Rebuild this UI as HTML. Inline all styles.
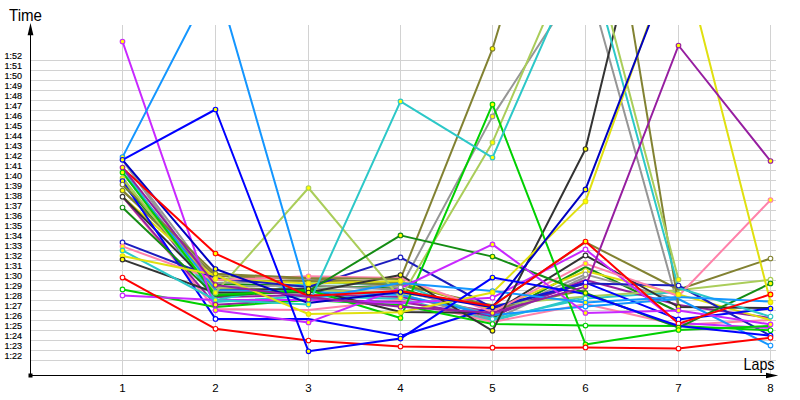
<!DOCTYPE html><html><head><meta charset="utf-8"><title>Lap times</title><style>html,body{margin:0;padding:0;background:#fff}svg{display:block}text{font-family:"Liberation Sans",sans-serif;fill:#000}.y{stroke:#000;stroke-width:0.15px}</style></head><body>
<svg width="800" height="400" viewBox="0 0 800 400">
<rect width="800" height="400" fill="#fff"/>
<defs><clipPath id="c"><rect x="0" y="25" width="800" height="351"/></clipPath></defs>
<path d="M31 60.5H776M31 70.5H776M31 80.5H776M31 90.5H776M31 100.5H776M31 110.5H776M31 120.5H776M31 130.5H776M31 140.5H776M31 150.5H776M31 160.5H776M31 170.5H776M31 180.5H776M31 190.5H776M31 200.5H776M31 210.5H776M31 220.5H776M31 230.5H776M31 240.5H776M31 250.5H776M31 260.5H776M31 270.5H776M31 280.5H776M31 290.5H776M31 300.5H776M31 310.5H776M31 320.5H776M31 330.5H776M31 340.5H776M31 350.5H776M31 360.5H776M122.5 25V375M215.5 25V375M308.5 25V375M400.5 25V375M492.5 25V375M585.5 25V375M678.5 25V375M770.5 25V375" stroke="#d2d2d2" stroke-width="1" fill="none" shape-rendering="crispEdges"/>
<text class="y" x="4.6" y="59" font-size="9">1:52</text>
<text class="y" x="4.6" y="69" font-size="9">1:51</text>
<text class="y" x="4.6" y="79" font-size="9">1:50</text>
<text class="y" x="4.6" y="89" font-size="9">1:49</text>
<text class="y" x="4.6" y="99" font-size="9">1:48</text>
<text class="y" x="4.6" y="109" font-size="9">1:47</text>
<text class="y" x="4.6" y="119" font-size="9">1:46</text>
<text class="y" x="4.6" y="129" font-size="9">1:45</text>
<text class="y" x="4.6" y="139" font-size="9">1:44</text>
<text class="y" x="4.6" y="149" font-size="9">1:43</text>
<text class="y" x="4.6" y="159" font-size="9">1:42</text>
<text class="y" x="4.6" y="169" font-size="9">1:41</text>
<text class="y" x="4.6" y="179" font-size="9">1:40</text>
<text class="y" x="4.6" y="189" font-size="9">1:39</text>
<text class="y" x="4.6" y="199" font-size="9">1:38</text>
<text class="y" x="4.6" y="209" font-size="9">1:37</text>
<text class="y" x="4.6" y="219" font-size="9">1:36</text>
<text class="y" x="4.6" y="229" font-size="9">1:35</text>
<text class="y" x="4.6" y="239" font-size="9">1:34</text>
<text class="y" x="4.6" y="249" font-size="9">1:33</text>
<text class="y" x="4.6" y="259" font-size="9">1:32</text>
<text class="y" x="4.6" y="269" font-size="9">1:31</text>
<text class="y" x="4.6" y="279" font-size="9">1:30</text>
<text class="y" x="4.6" y="289" font-size="9">1:29</text>
<text class="y" x="4.6" y="299" font-size="9">1:28</text>
<text class="y" x="4.6" y="309" font-size="9">1:27</text>
<text class="y" x="4.6" y="319" font-size="9">1:26</text>
<text class="y" x="4.6" y="329" font-size="9">1:25</text>
<text class="y" x="4.6" y="339" font-size="9">1:24</text>
<text class="y" x="4.6" y="349" font-size="9">1:23</text>
<text class="y" x="4.6" y="359" font-size="9">1:22</text>
<text x="122.5" y="391.5" font-size="11.5" text-anchor="middle">1</text>
<text x="215.5" y="391.5" font-size="11.5" text-anchor="middle">2</text>
<text x="308.5" y="391.5" font-size="11.5" text-anchor="middle">3</text>
<text x="400.5" y="391.5" font-size="11.5" text-anchor="middle">4</text>
<text x="492.5" y="391.5" font-size="11.5" text-anchor="middle">5</text>
<text x="585.5" y="391.5" font-size="11.5" text-anchor="middle">6</text>
<text x="678.5" y="391.5" font-size="11.5" text-anchor="middle">7</text>
<text x="770.5" y="391.5" font-size="11.5" text-anchor="middle">8</text>
<text x="9" y="20.8" font-size="16.5" textLength="33" lengthAdjust="spacingAndGlyphs">Time</text>
<text x="743.5" y="370" font-size="16.5" textLength="31" lengthAdjust="spacingAndGlyphs">Laps</text>
<g clip-path="url(#c)" fill="none" stroke-width="2" stroke-linejoin="round" stroke-linecap="round">
<polyline points="122.5,159.8 215.5,291.0 308.5,288.0 400.5,294.0 492.5,320.0 585.5,277.0" stroke="#969696"/>
<polyline points="122.5,178.0 215.5,297.0 308.5,295.0 400.5,297.0 492.5,312.0 585.5,283.0" stroke="#961ea0"/>
<polyline points="122.5,190.5 215.5,276.0 308.5,279.0 400.5,283.0 492.5,309.0 585.5,290.0" stroke="#828232"/>
<polyline points="122.5,184.6 215.5,284.0 308.5,286.0 400.5,288.0 492.5,318.0 585.5,267.0 678.5,312.0" stroke="#148c14"/>
<polyline points="122.5,167.6 215.5,302.0 308.5,296.0 400.5,299.0 492.5,321.0 585.5,296.0" stroke="#2cc8c8"/>
<polyline points="122.5,159.8 215.5,283.0 308.5,280.0 400.5,287.5 492.5,116.4 585.5,-27.0 678.5,307.0" stroke="#969696"/>
<polyline points="122.5,172.5 215.5,287.0 308.5,285.0 400.5,290.0 492.5,315.0 585.5,274.4 678.5,300.0" stroke="#969696"/>
<polyline points="122.5,196.7 215.5,309.0 308.5,310.0 400.5,300.0 492.5,322.0 585.5,304.0 678.5,325.0 770.5,320.0" stroke="#ff82aa"/>
<polyline points="122.5,167.6 215.5,300.0 308.5,283.0 400.5,284.0 492.5,319.0 585.5,298.6 678.5,292.0" stroke="#2cc8c8"/>
<polyline points="122.5,196.7 215.5,304.7 308.5,299.5 400.5,302.0 492.5,316.0 585.5,280.0 678.5,305.0 770.5,318.0" stroke="#961ea0"/>
<polyline points="122.5,181.0 215.5,288.0 308.5,290.0 400.5,293.0 492.5,305.0 585.5,296.5 678.5,290.3 770.5,279.7" stroke="#aacd5a"/>
<polyline points="122.5,190.5 215.5,280.0 308.5,281.0 400.5,285.0 492.5,305.5 585.5,242.2 678.5,289.5 770.5,258.5" stroke="#828232"/>
<polyline points="122.5,196.7 215.5,278.8 308.5,283.5 400.5,281.0 492.5,310.0 585.5,271.0 678.5,294.4 770.5,320.0" stroke="#e0e010"/>
<polyline points="122.5,196.7 215.5,290.0 308.5,289.0 400.5,312.0 492.5,313.0 585.5,255.4 678.5,307.0 770.5,308.0" stroke="#333333"/>
<polyline points="122.5,181.0 215.5,318.9 308.5,319.0 400.5,336.0 492.5,307.3 585.5,282.6 678.5,319.4 770.5,308.5" stroke="#0000ff"/>
<polyline points="122.5,172.5 215.5,290.0 308.5,292.0 400.5,295.0 492.5,315.0 585.5,306.6 678.5,299.0 770.5,345.6" stroke="#1496ff"/>
<polyline points="122.5,242.4 215.5,278.0 308.5,287.0 400.5,257.4 492.5,308.0 585.5,283.5 678.5,285.5 770.5,335.7" stroke="#1c1cbe"/>
<polyline points="122.5,289.4 215.5,307.0 308.5,300.0 400.5,305.0 492.5,324.0 585.5,325.6 678.5,326.0 770.5,330.3" stroke="#00d000"/>
<polyline points="122.5,295.4 215.5,300.0 308.5,300.0 400.5,303.0 492.5,297.7 585.5,249.4 678.5,323.0 770.5,328.0" stroke="#c828ff"/>
<polyline points="122.5,246.4 215.5,280.0 308.5,276.3 400.5,278.0 492.5,312.0 585.5,263.6 678.5,296.0 770.5,200.0" stroke="#ff82aa"/>
<polyline points="122.5,259.6 215.5,292.7 308.5,292.5 400.5,275.0 492.5,330.8 585.5,149.0 678.5,-232.0" stroke="#333333"/>
<polyline points="122.5,184.6 215.5,273.8 308.5,278.0 400.5,279.0 492.5,48.8 585.5,-258.0 678.5,305.0" stroke="#828232"/>
<polyline points="122.5,178.0 215.5,292.7 308.5,188.0 400.5,298.0 492.5,142.4 585.5,-74.0 678.5,279.5" stroke="#aacd5a"/>
<polyline points="122.5,207.5 215.5,296.0 308.5,291.0 400.5,235.4 492.5,256.6 585.5,293.0 678.5,327.6 770.5,283.4" stroke="#148c14"/>
<polyline points="122.5,277.6 215.5,328.8 308.5,340.5 400.5,346.5 492.5,347.7 585.5,347.4 678.5,348.6 770.5,337.8" stroke="#ff0000"/>
<polyline points="122.5,172.5 215.5,295.0 308.5,290.0 400.5,318.0 492.5,104.4 585.5,344.4 678.5,330.0 770.5,326.0" stroke="#00d000"/>
<polyline points="122.5,41.5 215.5,310.3 308.5,322.4 400.5,288.0 492.5,244.4 585.5,313.0 678.5,310.4 770.5,324.4" stroke="#c828ff"/>
<polyline points="122.5,250.4 215.5,300.0 308.5,304.4 400.5,101.4 492.5,157.6 585.5,-54.0 678.5,288.0 770.5,316.6" stroke="#2cc8c8"/>
<polyline points="122.5,157.1 215.5,-23.0 308.5,299.0 400.5,283.0 492.5,291.0 585.5,302.6 678.5,297.0 770.5,301.6" stroke="#1496ff"/>
<polyline points="122.5,256.0 215.5,275.0 308.5,314.0 400.5,312.3 492.5,292.5 585.5,201.4 678.5,-60.0 770.5,302.2" stroke="#e0e010"/>
<polyline points="122.5,159.8 215.5,269.0 308.5,303.0 400.5,292.0 492.5,307.3 585.5,189.4 678.5,-51.0" stroke="#0000c0"/>
<polyline points="122.5,159.8 215.5,109.5 308.5,351.3 400.5,338.6 492.5,277.6 585.5,294.0 678.5,326.0 770.5,335.7" stroke="#0000ff"/>
<polyline points="122.5,168.0 215.5,253.6 308.5,296.0 400.5,291.0 492.5,306.0 585.5,241.6 678.5,323.6 770.5,294.4" stroke="#ff0000"/>
<polyline points="122.5,167.6 215.5,285.0 308.5,297.0 400.5,306.7 492.5,313.0 585.5,286.6 678.5,45.5 770.5,161.0" stroke="#961ea0"/>
</g>
<g clip-path="url(#c)" stroke-width="1.1">
<circle cx="122.5" cy="41.5" r="2.3" stroke="#c828ff" fill="#ffff00"/>
<circle cx="122.5" cy="157.1" r="2.3" stroke="#1496ff" fill="#ffff00"/>
<circle cx="122.5" cy="159.8" r="2.3" stroke="#0000ff" fill="#ffff00"/>
<circle cx="122.5" cy="167.6" r="2.3" stroke="#961ea0" fill="#ffff00"/>
<circle cx="122.5" cy="172.5" r="2.3" stroke="#00d000" fill="#ffff00"/>
<circle cx="122.5" cy="178.0" r="2.3" stroke="#aacd5a" fill="#ffff00"/>
<circle cx="122.5" cy="181.0" r="2.3" stroke="#0000ff" fill="#ffff00"/>
<circle cx="122.5" cy="184.6" r="2.3" stroke="#828232" fill="#ffffff"/>
<circle cx="122.5" cy="190.5" r="2.3" stroke="#828232" fill="#ffff00"/>
<circle cx="122.5" cy="196.7" r="2.3" stroke="#333333" fill="#ffffff"/>
<circle cx="122.5" cy="207.5" r="2.3" stroke="#148c14" fill="#ffffff"/>
<circle cx="122.5" cy="242.4" r="2.3" stroke="#1c1cbe" fill="#ffffff"/>
<circle cx="122.5" cy="246.4" r="2.3" stroke="#ff82aa" fill="#ffff00"/>
<circle cx="122.5" cy="250.4" r="2.3" stroke="#2cc8c8" fill="#ffff00"/>
<circle cx="122.5" cy="256.0" r="2.3" stroke="#e0e010" fill="#ffff00"/>
<circle cx="122.5" cy="259.6" r="2.3" stroke="#333333" fill="#ffff00"/>
<circle cx="122.5" cy="277.6" r="2.3" stroke="#ff0000" fill="#ffffff"/>
<circle cx="122.5" cy="289.4" r="2.3" stroke="#00d000" fill="#ffffff"/>
<circle cx="122.5" cy="295.4" r="2.3" stroke="#c828ff" fill="#ffffff"/>
<circle cx="215.5" cy="109.5" r="2.3" stroke="#0000ff" fill="#ffff00"/>
<circle cx="215.5" cy="253.6" r="2.3" stroke="#ff0000" fill="#ffff00"/>
<circle cx="215.5" cy="269.0" r="2.3" stroke="#0000c0" fill="#ffff00"/>
<circle cx="215.5" cy="273.8" r="2.3" stroke="#828232" fill="#ffff00"/>
<circle cx="215.5" cy="278.8" r="2.3" stroke="#e0e010" fill="#ffff00"/>
<circle cx="215.5" cy="285.0" r="2.3" stroke="#961ea0" fill="#ffff00"/>
<circle cx="215.5" cy="292.7" r="2.3" stroke="#aacd5a" fill="#ffff00"/>
<circle cx="215.5" cy="300.0" r="2.3" stroke="#2cc8c8" fill="#ffff00"/>
<circle cx="215.5" cy="304.7" r="2.3" stroke="#961ea0" fill="#ffff00"/>
<circle cx="215.5" cy="310.3" r="2.3" stroke="#c828ff" fill="#ffff00"/>
<circle cx="215.5" cy="318.9" r="2.3" stroke="#0000ff" fill="#ffffff"/>
<circle cx="215.5" cy="328.8" r="2.3" stroke="#ff0000" fill="#ffffff"/>
<circle cx="308.5" cy="188.0" r="2.3" stroke="#aacd5a" fill="#ffff00"/>
<circle cx="308.5" cy="276.3" r="2.3" stroke="#ff82aa" fill="#ffff00"/>
<circle cx="308.5" cy="283.5" r="2.3" stroke="#e0e010" fill="#ffff00"/>
<circle cx="308.5" cy="289.0" r="2.3" stroke="#333333" fill="#ffff00"/>
<circle cx="308.5" cy="292.5" r="2.3" stroke="#333333" fill="#ffff00"/>
<circle cx="308.5" cy="299.5" r="2.3" stroke="#961ea0" fill="#ffff00"/>
<circle cx="308.5" cy="304.4" r="2.3" stroke="#2cc8c8" fill="#ffff00"/>
<circle cx="308.5" cy="314.0" r="2.3" stroke="#e0e010" fill="#ffff00"/>
<circle cx="308.5" cy="322.4" r="2.3" stroke="#c828ff" fill="#ffff00"/>
<circle cx="308.5" cy="340.5" r="2.3" stroke="#ff0000" fill="#ffffff"/>
<circle cx="308.5" cy="351.3" r="2.3" stroke="#0000ff" fill="#ffff00"/>
<circle cx="400.5" cy="101.4" r="2.3" stroke="#2cc8c8" fill="#ffff00"/>
<circle cx="400.5" cy="235.4" r="2.3" stroke="#148c14" fill="#ffff00"/>
<circle cx="400.5" cy="257.4" r="2.3" stroke="#1c1cbe" fill="#ffffff"/>
<circle cx="400.5" cy="275.0" r="2.3" stroke="#333333" fill="#ffff00"/>
<circle cx="400.5" cy="281.0" r="2.3" stroke="#e0e010" fill="#ffff00"/>
<circle cx="400.5" cy="287.5" r="2.3" stroke="#969696" fill="#ffffff"/>
<circle cx="400.5" cy="292.0" r="2.3" stroke="#0000c0" fill="#ffff00"/>
<circle cx="400.5" cy="298.0" r="2.3" stroke="#aacd5a" fill="#ffff00"/>
<circle cx="400.5" cy="306.7" r="2.3" stroke="#961ea0" fill="#ffff00"/>
<circle cx="400.5" cy="312.3" r="2.3" stroke="#e0e010" fill="#ffff00"/>
<circle cx="400.5" cy="318.0" r="2.3" stroke="#00d000" fill="#ffff00"/>
<circle cx="400.5" cy="336.0" r="2.3" stroke="#0000ff" fill="#ffffff"/>
<circle cx="400.5" cy="338.6" r="2.3" stroke="#0000ff" fill="#ffff00"/>
<circle cx="400.5" cy="346.5" r="2.3" stroke="#ff0000" fill="#ffffff"/>
<circle cx="492.5" cy="48.8" r="2.3" stroke="#828232" fill="#ffff00"/>
<circle cx="492.5" cy="104.4" r="2.3" stroke="#00d000" fill="#ffff00"/>
<circle cx="492.5" cy="116.4" r="2.3" stroke="#969696" fill="#ffff00"/>
<circle cx="492.5" cy="142.4" r="2.3" stroke="#aacd5a" fill="#ffff00"/>
<circle cx="492.5" cy="157.6" r="2.3" stroke="#2cc8c8" fill="#ffff00"/>
<circle cx="492.5" cy="244.4" r="2.3" stroke="#c828ff" fill="#ffff00"/>
<circle cx="492.5" cy="256.6" r="2.3" stroke="#148c14" fill="#ffff00"/>
<circle cx="492.5" cy="277.6" r="2.3" stroke="#0000ff" fill="#ffff00"/>
<circle cx="492.5" cy="291.0" r="2.3" stroke="#1496ff" fill="#ffff00"/>
<circle cx="492.5" cy="292.5" r="2.3" stroke="#e0e010" fill="#ffff00"/>
<circle cx="492.5" cy="297.7" r="2.3" stroke="#c828ff" fill="#ffffff"/>
<circle cx="492.5" cy="307.3" r="2.3" stroke="#0000c0" fill="#ffff00"/>
<circle cx="492.5" cy="313.0" r="2.3" stroke="#961ea0" fill="#ffff00"/>
<circle cx="492.5" cy="319.0" r="2.3" stroke="#2cc8c8" fill="#ffffff"/>
<circle cx="492.5" cy="324.0" r="2.3" stroke="#00d000" fill="#ffffff"/>
<circle cx="492.5" cy="330.8" r="2.3" stroke="#333333" fill="#ffff00"/>
<circle cx="492.5" cy="347.7" r="2.3" stroke="#ff0000" fill="#ffffff"/>
<circle cx="585.5" cy="149.0" r="2.3" stroke="#333333" fill="#ffff00"/>
<circle cx="585.5" cy="189.4" r="2.3" stroke="#0000c0" fill="#ffff00"/>
<circle cx="585.5" cy="201.4" r="2.3" stroke="#e0e010" fill="#ffff00"/>
<circle cx="585.5" cy="241.6" r="2.3" stroke="#ff0000" fill="#ffff00"/>
<circle cx="585.5" cy="249.4" r="2.3" stroke="#c828ff" fill="#ffffff"/>
<circle cx="585.5" cy="255.4" r="2.3" stroke="#333333" fill="#ffffff"/>
<circle cx="585.5" cy="263.6" r="2.3" stroke="#ff82aa" fill="#ffff00"/>
<circle cx="585.5" cy="271.0" r="2.3" stroke="#e0e010" fill="#ffffff"/>
<circle cx="585.5" cy="274.4" r="2.3" stroke="#969696" fill="#ffffff"/>
<circle cx="585.5" cy="282.6" r="2.3" stroke="#0000ff" fill="#ffffff"/>
<circle cx="585.5" cy="286.6" r="2.3" stroke="#961ea0" fill="#ffff00"/>
<circle cx="585.5" cy="293.0" r="2.3" stroke="#148c14" fill="#ffff00"/>
<circle cx="585.5" cy="298.6" r="2.3" stroke="#2cc8c8" fill="#ffffff"/>
<circle cx="585.5" cy="302.6" r="2.3" stroke="#1496ff" fill="#ffff00"/>
<circle cx="585.5" cy="306.6" r="2.3" stroke="#1496ff" fill="#ffffff"/>
<circle cx="585.5" cy="313.0" r="2.3" stroke="#c828ff" fill="#ffff00"/>
<circle cx="585.5" cy="325.6" r="2.3" stroke="#00d000" fill="#ffffff"/>
<circle cx="585.5" cy="344.4" r="2.3" stroke="#00d000" fill="#ffff00"/>
<circle cx="585.5" cy="347.4" r="2.3" stroke="#ff0000" fill="#ffffff"/>
<circle cx="678.5" cy="45.5" r="2.3" stroke="#961ea0" fill="#ffff00"/>
<circle cx="678.5" cy="279.5" r="2.3" stroke="#aacd5a" fill="#ffff00"/>
<circle cx="678.5" cy="285.5" r="2.3" stroke="#1c1cbe" fill="#ffffff"/>
<circle cx="678.5" cy="294.4" r="2.3" stroke="#e0e010" fill="#ffff00"/>
<circle cx="678.5" cy="307.0" r="2.3" stroke="#333333" fill="#ffff00"/>
<circle cx="678.5" cy="310.4" r="2.3" stroke="#c828ff" fill="#ffff00"/>
<circle cx="678.5" cy="319.4" r="2.3" stroke="#0000ff" fill="#ffffff"/>
<circle cx="678.5" cy="323.6" r="2.3" stroke="#ff0000" fill="#ffffff"/>
<circle cx="678.5" cy="327.6" r="2.3" stroke="#148c14" fill="#ffff00"/>
<circle cx="678.5" cy="330.0" r="2.3" stroke="#00d000" fill="#ffff00"/>
<circle cx="678.5" cy="348.6" r="2.3" stroke="#ff0000" fill="#ffffff"/>
<circle cx="770.5" cy="161.0" r="2.3" stroke="#961ea0" fill="#ffff00"/>
<circle cx="770.5" cy="200.0" r="2.3" stroke="#ff82aa" fill="#ffff00"/>
<circle cx="770.5" cy="258.5" r="2.3" stroke="#828232" fill="#ffffff"/>
<circle cx="770.5" cy="279.7" r="2.3" stroke="#aacd5a" fill="#ffffff"/>
<circle cx="770.5" cy="283.4" r="2.3" stroke="#148c14" fill="#ffff00"/>
<circle cx="770.5" cy="294.4" r="2.3" stroke="#ff0000" fill="#ffff00"/>
<circle cx="770.5" cy="302.2" r="2.3" stroke="#e0e010" fill="#ffff00"/>
<circle cx="770.5" cy="308.5" r="2.3" stroke="#0000ff" fill="#ffff00"/>
<circle cx="770.5" cy="316.6" r="2.3" stroke="#2cc8c8" fill="#ffffff"/>
<circle cx="770.5" cy="324.4" r="2.3" stroke="#c828ff" fill="#ffff00"/>
<circle cx="770.5" cy="330.3" r="2.3" stroke="#00d000" fill="#ffffff"/>
<circle cx="770.5" cy="335.7" r="2.3" stroke="#0000ff" fill="#ffffff"/>
<circle cx="770.5" cy="337.8" r="2.3" stroke="#ff0000" fill="#ffffff"/>
<circle cx="770.5" cy="345.6" r="2.3" stroke="#1496ff" fill="#ffffff"/>
</g>
<path d="M30.5 376V30M30 375.5H770" stroke="#000" stroke-width="1" fill="none" shape-rendering="crispEdges"/>
<path d="M30.5 23L27.6 35.2H33.4Z" fill="#000"/>
<path d="M778.2 375.5L766 372.7V378.3Z" fill="#000"/>
<rect x="28.5" y="373.5" width="4" height="4" fill="#000"/>
</svg></body></html>
